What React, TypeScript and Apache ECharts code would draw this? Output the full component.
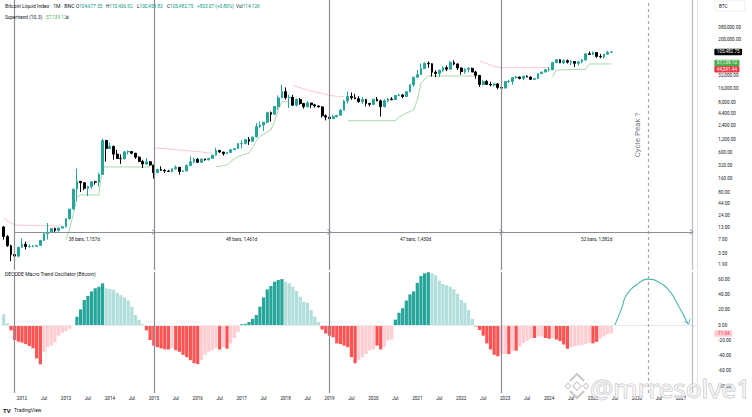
import React, { useEffect, useRef } from 'react';
import * as echarts from 'echarts';

const FONT = 'Roboto, "Noto Sans", Arial, sans-serif';

// Monthly categories Aug 2011 .. May 2027
const CATEGORIES: string[] = [];
for (let y = 2011; y <= 2027; y++) {
  for (let m = 1; m <= 12; m++) {
    if ((y === 2011 && m < 8) || (y === 2027 && m > 5)) continue;
    CATEGORIES.push(`${y}-${m < 10 ? '0' + m : m}`);
  }
}

// Bitcoin Liquid Index monthly candles, Aug 2011 .. Jun 2025
const FIRST_OPEN = 13.4;
const CLOSE = [
  8.2, 5.1, 3.25, 3.0, 4.7,
  5.5, 4.9, 4.9, 5.0, 5.2, 6.7, 9.4, 10.2, 12.4, 11.2, 12.6, 13.5,
  20.4, 33.4, 93, 139, 129, 97, 106, 135, 133, 198, 1130, 750,
  830, 560, 450, 445, 630, 640, 585, 480, 385, 338, 378, 320,
  217, 254, 244, 236, 230, 263, 284, 230, 236, 314, 377, 430,
  368, 437, 416, 448, 531, 673, 624, 573, 609, 700, 742, 964,
  970, 1190, 1080, 1350, 2300, 2480, 2875, 4700, 4340, 6450, 10000, 13800,
  10200, 10300, 6900, 9250, 7500, 6400, 7730, 7030, 6630, 6320, 4020, 3740,
  3460, 3820, 4100, 5320, 8570, 10800, 10080, 9600, 8300, 9200, 7560, 7200,
  9350, 8600, 6400, 8620, 9450, 9140, 11350, 11650, 10780, 13800, 19700, 28990,
  33100, 45200, 58800, 57700, 37300, 35000, 41500, 47100, 43800, 61300, 57000, 46300,
  38500, 43200, 45500, 37700, 31800, 19900, 23300, 20050, 19400, 20500, 17150, 16550,
  23100, 23150, 28500, 29250, 27200, 30450, 29250, 25950, 26950, 34650, 37700, 42300,
  42600, 61200, 71300, 60700, 67500, 62700, 64600, 58950, 63300, 70300, 96400, 93400,
  102400, 84300, 82500, 94200, 104677.55, 105482.75,
];
const HIGH = [
  13.9, 8.8, 5.4, 3.6, 4.8,
  7.4, 6.3, 5.5, 5.3, 5.2, 6.8, 9.8, 16.4, 12.7, 12.9, 12.9, 13.7,
  20.7, 33.5, 95, 266, 140, 130, 111, 140, 142, 215, 1240, 1160,
  1000, 870, 700, 550, 635, 680, 660, 600, 500, 420, 460, 390,
  320, 265, 300, 260, 250, 270, 315, 285, 245, 330, 500, 470,
  460, 440, 440, 465, 550, 780, 700, 630, 615, 720, 755, 975,
  1150, 1200, 1350, 1360, 2770, 3000, 2930, 4750, 4980, 6470, 11400, 19700,
  17200, 11800, 11700, 9750, 9950, 7770, 8500, 7750, 7400, 6800, 6550, 4300,
  4100, 4200, 4150, 5650, 9100, 13900, 13200, 12300, 10900, 10400, 9500, 7750,
  9600, 10500, 9200, 9450, 10100, 10400, 11450, 12450, 12100, 14100, 19900, 29300,
  41950, 58350, 61800, 64900, 59500, 41300, 42300, 50500, 52900, 67000, 69000, 59100,
  47900, 45800, 48200, 47400, 39800, 31900, 24700, 25200, 22800, 21000, 21500, 18400,
  23950, 25250, 29200, 31000, 29850, 31400, 31800, 30200, 27500, 35200, 38400, 44700,
  49000, 64000, 73800, 72800, 72000, 72000, 70000, 65100, 66500, 73600, 99600, 108300,
  109500, 102500, 95000, 95800, 112000, 110436.92,
];
const LOW = [
  7.0, 4.8, 2.3, 2.0, 2.8,
  4.6, 4.2, 4.6, 4.7, 4.8, 5.1, 6.6, 7.0, 9.8, 9.9, 10.5, 12.5,
  13.2, 19.6, 33, 50, 80, 88, 65, 95, 117, 106, 197, 380,
  740, 420, 440, 340, 420, 550, 560, 440, 370, 275, 320, 310,
  160, 210, 240, 215, 225, 220, 255, 195, 225, 235, 300, 350,
  355, 365, 400, 410, 440, 520, 600, 520, 570, 605, 690, 740,
  750, 920, 900, 1060, 1350, 2100, 1830, 2700, 2970, 4160, 5500, 10900,
  9200, 6000, 6600, 6450, 7050, 5800, 6100, 5900, 6100, 6200, 3650, 3150,
  3350, 3400, 3700, 4050, 5300, 7500, 9100, 9400, 7800, 7300, 6500, 6450,
  6900, 8450, 3850, 6150, 8150, 8900, 8950, 10950, 9850, 10400, 13200, 17600,
  28150, 32300, 45000, 47000, 30000, 28800, 29300, 37400, 39600, 43300, 53500, 42000,
  32900, 34300, 37200, 37600, 26700, 17600, 18800, 19600, 18200, 18200, 15500, 16300,
  16500, 21400, 19600, 26950, 25850, 24800, 28900, 25200, 24900, 26550, 34100, 37600,
  38500, 41900, 59300, 59600, 56500, 58400, 53500, 49000, 52600, 58900, 66800, 91400,
  89200, 78200, 76600, 74500, 93400, 100459.83,
];

// Supertrend (10, 3): uptrend (green) and downtrend (red) lines, Aug 2011 .. Jun 2025
const N = null;
const ST_UP: (number | null)[] = [
  N, N, N, N, N,
  N, N, N, N, N, N, N, N, N, N, N, N,
  6.9, 12, 26, 62, 69, 69, 69, 69, 69, 69, 290, 290,
  290, 290, 290, 290, 290, 290, 290, 290, 290, 290, 290, 290,
  N, N, N, N, N, N, N, N, N, N, N, N,
  N, N, N, N, N, 294, 300, 310, 321, 380, 440, 491,
  530, 560, 585, 800, 1100, 1370, 1550, 1750, 1930, 3000, 5380, 8240,
  8240, 8240, N, N, N, N, N, N, N, N, N, N,
  N, N, N, N, N, 3110, 3110, 3110, 3110, 3110, 3110, 3110,
  3110, 3110, 3110, 3110, 3110, 3110, 3110, 3700, 4170, 4600, 5000, 5380,
  9000, 21200, 26000, 30800, 30800, 30800, 30800, 30800, 30800, 30800, 30800, 30800,
  30800, 30800, 30800, 30800, 30800, N, N, N, N, N, N, N,
  N, N, N, N, N, N, N, N, N, N, N, N,
  N, 29700, 41900, 42100, 42300, 42500, 42700, 42900, 43100, 43300, 43400, 57139.12,
  57139.12, 57139.12, 57139.12, 57139.12, 57139.12, 57139.12,
];
const ST_DOWN: (number | null)[] = [
  21.2, 18.2, 16.4, 14.8, 14.7,
  14.6, 14.5, 14.5, 14.4, 14.4, 14.3, 14.3, 14.2, 14.2, 14.1, 14.1, 14.0,
  N, N, N, N, N, N, N, N, N, N, N, N,
  N, N, N, N, N, N, N, N, N, N, N, N,
  770, 760, 750, 740, 730, 715, 700, 690, 680, 670, 660, 650,
  640, 625, 610, 595, 590, N, N, N, N, N, N, N,
  N, N, N, N, N, N, N, N, N, N, N, N,
  N, N, 19400, 18000, 16800, 15800, 15000, 14200, 13500, 13000, 12700, 12000,
  11500, 11100, 10900, 10700, 10700, N, N, N, N, N, N, N,
  N, N, N, N, N, N, N, N, N, N, N, N,
  N, N, N, N, N, N, N, N, N, N, N, N,
  N, N, N, N, N, 66500, 62000, 58000, 54000, 51000, 48500, 47200,
  47200, 47200, 47200, 47200, 47200, 47200, 47200, 47200, 47200, 47200, 47200, 47200,
  47200, N, N, N, N, N, N, N, N, N, N, N,
  N, N, N, N, N, N,
];

// DECODE Macro Trend Oscillator, Aug 2011 .. Jun 2025
const OSC = [
  14, 2, -7, -19.6, -21.8,
  -23, -25, -27.5, -30.5, -43.6, -51.4, -35, -29, -27, -23, -14, -10,
  -8, -5, -1, 10.9, 20.5, 32.7, 38, 44, 48, 50, 54.5, 48,
  47, 46, 42, 39, 36, 32, 24, 13, 6.5, 1, -7, -19.6,
  -27, -29, -30.5, -31.8, -32, -30, -33, -35, -39, -42, -46, -50,
  -51, -46, -39, -35, -33, -30.5, -32, -29, -31, -24, -17, -9,
  1, 1.5, 4, 8, 13, 24, 36, 46.6, 51, 56.6, 58.8, 60,
  56.6, 54.5, 50, 44.4, 37, 30.5, 29, 19.6, 10.9, 4, -6, -11,
  -14, -16, -24, -25, -27, -29, -42, -50, -46, -42, -38, -33,
  -32, -27, -32, -29, -20, -19, 7, 16, 22, 32, 40, 44,
  55, 64, 67.5, 69, 67.5, 65, 58, 53.6, 52, 50, 46.6, 41,
  32.7, 29, 19.6, 8, -2, -6.5, -14, -24, -32, -39, -41, -38,
  -38, -38, -34, -33.5, -28, -23.5, -21, -18, -17, -15, -15, -17,
  -18, -17, -19, -21, -25.5, -31, -29, -28, -27, -26, -25, -23.5,
  -24, -22, -18, -15, -12, -11.04,
];
// U rising positive, u falling positive, D falling negative, d rising negative
const OSC_STATE = [
  'u', 'u', 'D', 'D', 'D',
  'D', 'D', 'D', 'D', 'D', 'D', 'd', 'd', 'd', 'd', 'd', 'd',
  'd', 'd', 'd', 'U', 'U', 'U', 'U', 'U', 'U', 'U', 'U', 'u',
  'u', 'u', 'u', 'u', 'u', 'u', 'u', 'u', 'u', 'u', 'D', 'D',
  'D', 'D', 'D', 'D', 'D', 'd', 'D', 'D', 'D', 'D', 'D', 'D',
  'D', 'd', 'd', 'd', 'd', 'd', 'D', 'd', 'D', 'd', 'd', 'd',
  'U', 'U', 'U', 'U', 'U', 'U', 'U', 'U', 'U', 'U', 'U', 'U',
  'u', 'u', 'u', 'u', 'u', 'u', 'u', 'u', 'u', 'u', 'D', 'D',
  'D', 'D', 'D', 'D', 'D', 'D', 'D', 'D', 'd', 'd', 'd', 'd',
  'd', 'D', 'D', 'd', 'd', 'd', 'U', 'U', 'U', 'U', 'U', 'U',
  'U', 'U', 'U', 'U', 'u', 'u', 'u', 'u', 'u', 'u', 'u', 'u',
  'u', 'u', 'u', 'u', 'D', 'D', 'D', 'D', 'D', 'D', 'D', 'd',
  'd', 'D', 'd', 'D', 'd', 'd', 'd', 'd', 'D', 'd', 'd', 'D',
  'D', 'd', 'D', 'D', 'D', 'D', 'd', 'd', 'd', 'd', 'd', 'd',
  'D', 'D', 'd', 'd', 'd', 'd',
];

// Projected cycle arc (annotation)
const ARC: [string, number][] = [
  ['2025-07', 0], ['2025-09', 24], ['2025-10', 38], ['2026-01', 53], ['2026-04', 60],
  ['2026-07', 56], ['2026-10', 44], ['2026-12', 28], ['2027-03', 1],
];

// Measurement annotations
const MEASURE_LEVEL = 10.3;
const MEASURES = [
  { from: '2011-11', to: '2015-01', text: '38 bars, 1,157d' },
  { from: '2015-01', to: '2019-01', text: '48 bars, 1,461d' },
  { from: '2019-01', to: '2022-12', text: '47 bars, 1,430d' },
  { from: '2022-12', to: '2027-04', text: '52 bars, 1,582d' },
];
const CYCLE_PEAK = '2026-04';

const PRICE_TICKS = [380000, 200000, 32000, 16000, 8000, 4400, 2400, 1200, 600, 320, 160, 80, 44, 24, 13, 7, 3.5, 1.9];
const OSC_TICKS = [60, 40, 20, 0, -20, -40, -60, -80];

const LAST_CLOSE = 105482.75;
const ST_LAST = 57139.12;
const RED_LEVEL = 44391.44;
const OSC_LAST = -11.04;

// Header texts
const HEADER_TITLE = 'Bitcoin Liquid Index · 1M · BNC';
const HEADER_FIELDS: [string, string][] = [
  ['O', '104,677.55'],
  ['H', '110,436.92'],
  ['L', '100,459.83'],
  ['C', '105,482.75'],
  ['', '+833.07 (+0.80%)'],
  ['Vol', '114.12K'],
];
const ST_TITLE = 'Supertrend (10, 3)';
const ST_VALUE = '57,139.12';

const UP = '#26a69a';
const DOWN = '#000000';
const OSC_COLORS: Record<string, string> = { U: '#26a69a', u: '#b2dfdb', D: '#ff5252', d: '#ffcdd2' };
const GRID_LEFT = 1.9;
const GRID_RIGHT = 54.7;
const SMALL = 4.6;
const LEGEND = 4.7;

const fmt = (v: number) =>
  Number(v).toLocaleString('en-US', { minimumFractionDigits: 2, maximumFractionDigits: 2 });

const CHEVRON = 'path://M0,10 L5,0 L10,10 L8.4,10 L5,3.2 L1.6,10 Z';

function priceTag(value: number, bg: string, color: string, offsetY = 0) {
  return {
    yAxis: value,
    lineStyle: { color: 'rgba(0,0,0,0)', width: 0 },
    label: {
      show: true,
      opacity: 1,
      position: 'end',
      distance: 17,
      offset: [0, offsetY],
      formatter: fmt(value),
      backgroundColor: bg,
      color,
      fontSize: SMALL,
      fontFamily: FONT,
      padding: [1, 2.5, 0.5, 2.5],
      borderRadius: 1,
    },
  };
}

function txt(x: number, y: number, text: string, fill: string, size = LEGEND, extra: any = {}) {
  return {
    type: 'text',
    x,
    y,
    z: 10,
    style: { text, verticalAlign: 'middle', fontSize: size, fontFamily: FONT, fill, ...extra },
  };
}

export default function App() {
  const ref = useRef<HTMLDivElement>(null);

  useEffect(() => {
    document.body.style.margin = '0';
    const chart = echarts.init(ref.current!, null, { renderer: 'svg' });

    const candles = CLOSE.map((c, i) => [i === 0 ? FIRST_OPEN : CLOSE[i - 1], c, LOW[i], HIGH[i]]);
    const vDates = [MEASURES[0].from, ...MEASURES.map((m) => m.to)];
    const vLines = (withLabel: boolean) => [
      ...vDates.map((d, i) => ({
        xAxis: d,
        lineStyle: { color: i === vDates.length - 1 ? '#b8bbc3' : '#8a8d96', width: 1.2, type: 'solid' },
        label: { show: false },
      })),
      {
        xAxis: CYCLE_PEAK,
        lineStyle: { color: '#a3a6af', width: 1.2, type: [3, 3] },
        label: withLabel
          ? {
              show: true,
              position: 'middle',
              formatter: 'Cycle Peak ?',
              color: '#787b86',
              fontSize: 8,
              fontFamily: FONT,
              backgroundColor: '#ffffff',
              padding: [1, 2],
            }
          : { show: false },
      },
    ];
    const segs = MEASURES.map((m) => [
      {
        coord: [m.from, MEASURE_LEVEL],
        symbol: 'none',
        lineStyle: { color: '#8a8d96', width: 1, type: 'solid' },
        label: {
          show: true,
          position: 'insideMiddleBottom',
          formatter: m.text,
          color: '#131722',
          fontSize: SMALL,
          fontFamily: FONT,
          distance: 5,
        },
      },
      { coord: [m.to, MEASURE_LEVEL], symbol: CHEVRON, symbolSize: [6, 4] },
    ]);

    // header texts at TradingView-like spacing
    const headerX = [76, 106, 137, 167, 197, 236];
    const header: any[] = [txt(5, 6, HEADER_TITLE, '#131722', 5.1)];
    HEADER_FIELDS.forEach(([k, v], i) => {
      header.push({
        type: 'text', x: headerX[i], y: 6, z: 10,
        style: {
          text: k ? `{k|${k}}{v|${v}}` : `{v|${v}}`,
          verticalAlign: 'middle',
          fontSize: LEGEND,
          fontFamily: FONT,
          rich: {
            k: { fill: '#131722', fontSize: LEGEND, fontFamily: FONT },
            v: { fill: '#089981', fontSize: LEGEND, fontFamily: FONT },
          },
        },
      });
    });

    const option: any = {
      animation: false,
      backgroundColor: '#ffffff',
      textStyle: { fontFamily: FONT },
      grid: [
        { left: GRID_LEFT, right: GRID_RIGHT, top: 0, height: 270 },
        { left: GRID_LEFT, right: GRID_RIGHT, top: 272, height: 121 },
      ],
      xAxis: [
        {
          type: 'category',
          gridIndex: 0,
          data: CATEGORIES,
          boundaryGap: true,
          axisLine: { show: false },
          axisTick: { show: false },
          axisLabel: { show: false },
          splitLine: { show: false },
        },
        {
          type: 'category',
          gridIndex: 1,
          data: CATEGORIES,
          boundaryGap: true,
          axisLine: { show: true, lineStyle: { color: '#e0e3eb', width: 1 } },
          axisTick: { show: false },
          axisLabel: {
            interval: (_i: number, v: string) => v.endsWith('-01') || v.endsWith('-07'),
            formatter: (v: string) => (v.endsWith('-01') ? v.slice(0, 4) : 'Jul'),
            fontSize: SMALL,
            color: '#131722',
            margin: 3,
            fontFamily: FONT,
          },
          splitLine: { show: false },
        },
      ],
      yAxis: [
        {
          type: 'log',
          gridIndex: 0,
          position: 'right',
          min: 1.47,
          max: 1518000,
          axisLine: { show: true, lineStyle: { color: '#e0e3eb', width: 1 } },
          axisTick: { show: false },
          splitLine: { show: false },
          axisLabel: {
            customValues: PRICE_TICKS,
            formatter: (v: number) => fmt(v),
            fontSize: SMALL,
            color: '#131722',
            margin: 21,
            align: 'left',
            fontFamily: FONT,
          },
        },
        {
          type: 'value',
          gridIndex: 1,
          position: 'right',
          min: -88.9,
          max: 69.3,
          axisLine: { show: true, lineStyle: { color: '#e0e3eb', width: 1 } },
          axisTick: { show: false },
          splitLine: { show: false },
          axisLabel: {
            customValues: OSC_TICKS,
            formatter: (v: number) => fmt(v),
            fontSize: SMALL,
            color: '#131722',
            margin: 21,
            align: 'left',
            fontFamily: FONT,
          },
        },
      ],
      series: [
        {
          type: 'candlestick',
          xAxisIndex: 0,
          yAxisIndex: 0,
          data: candles,
          barWidth: '62%',
          itemStyle: { color: UP, color0: DOWN, borderColor: UP, borderColor0: DOWN, borderWidth: 1 },
          markLine: {
            silent: true,
            symbol: ['none', 'none'],
            animation: false,
            data: [
              ...vLines(true),
              ...segs,
              priceTag(LAST_CLOSE, '#000000', '#ffffff'),
              priceTag(RED_LEVEL, '#f23645', '#ffffff', 0.5),
            ],
          },
          z: 3,
        },
        {
          type: 'line',
          name: 'Supertrend up',
          xAxisIndex: 0,
          yAxisIndex: 0,
          data: ST_UP.map((v) => (v == null ? '-' : v)),
          symbol: 'none',
          connectNulls: false,
          lineStyle: { color: '#6cc070', width: 0.8, opacity: 0.75 },
          z: 2,
          markLine: {
            silent: true,
            symbol: ['none', 'none'],
            data: [priceTag(ST_LAST, '#4caf50', '#ffffff', -1)],
          },
        },
        {
          type: 'line',
          name: 'Supertrend down',
          xAxisIndex: 0,
          yAxisIndex: 0,
          data: ST_DOWN.map((v) => (v == null ? '-' : v)),
          symbol: 'none',
          connectNulls: false,
          lineStyle: { color: '#f7a6b4', width: 0.8, opacity: 0.8 },
          z: 2,
        },
        {
          type: 'bar',
          xAxisIndex: 1,
          yAxisIndex: 1,
          barCategoryGap: '12%',
          data: OSC.map((v, i) => ({ value: v, itemStyle: { color: OSC_COLORS[OSC_STATE[i]] } })),
          markLine: {
            silent: true,
            symbol: ['none', 'none'],
            data: [
              { yAxis: 0, lineStyle: { color: '#e6e8ee', width: 1, type: 'solid' }, label: { show: false } },
              ...vLines(false),
              {
                yAxis: OSC_LAST,
                lineStyle: { color: 'rgba(0,0,0,0)', width: 0 },
                label: {
                  show: true,
                  opacity: 1,
                  position: 'end',
                  distance: 17,
                  formatter: fmt(OSC_LAST),
                  backgroundColor: '#ffcdd2',
                  color: '#f23645',
                  fontSize: SMALL,
                  fontFamily: FONT,
                  padding: [1, 2.5, 0.5, 2.5],
                },
              },
            ],
          },
        },
        {
          type: 'line',
          xAxisIndex: 1,
          yAxisIndex: 1,
          smooth: 0.5,
          showSymbol: true,
          showAllSymbol: true,
          symbol: 'circle',
          symbolSize: 0,
          lineStyle: { color: '#4db6ac', width: 1.1 },
          itemStyle: { color: '#4db6ac' },
          data: ARC.map((p, i) =>
            i === ARC.length - 1
              ? {
                  value: p,
                  symbol: 'path://M0,0 L5,6 L10,0 L8.6,0 L5,4.2 L1.4,0 Z',
                  symbolSize: [7, 5],
                  symbolRotate: 24,
                  symbolOffset: [0, -2],
                  itemStyle: { color: '#4db6ac' },
                }
              : { value: p, symbol: 'none' },
          ),
          z: 4,
        },
      ],
      graphic: [
        ...header,
        txt(5, 17, ST_TITLE, '#131722'),
        txt(46, 17, ST_VALUE, '#4caf50'),
        txt(66, 17, 'ø', '#131722'),
        txt(5, 274, 'DECODE Macro Trend Oscillator (Bitcoin)', '#131722', 5),
        {
          type: 'rect',
          shape: { x: 715, y: 1, width: 30, height: 10, r: 1.5 },
          z: 10,
          style: { fill: '#ffffff', stroke: '#e0e3eb', lineWidth: 0.6 },
        },
        txt(719, 6, 'BTC', '#131722', SMALL),
        {
          type: 'text',
          x: 3,
          y: 410,
          z: 10,
          style: {
            text: '{b|TV} {t|TradingView}',
            verticalAlign: 'middle',
            rich: {
              b: { fill: '#131722', fontSize: 6, fontWeight: 'bold', fontFamily: FONT },
              t: { fill: '#131722', fontSize: 5, fontFamily: FONT },
            },
          },
        },
        // watermark
        {
          type: 'group',
          x: 577,
          y: 386,
          z: 20,
          children: [
            { type: 'rect', x: 0, y: 0, rotation: Math.PI / 4, shape: { x: -3, y: -3, width: 6, height: 6 }, style: { fill: 'rgba(255,255,255,0.6)', stroke: '#c9c9c9', lineWidth: 1 } },
            { type: 'rect', x: -9, y: 0, rotation: Math.PI / 4, shape: { x: -2, y: -2, width: 4, height: 4 }, style: { fill: 'rgba(255,255,255,0.6)', stroke: '#c9c9c9', lineWidth: 1 } },
            { type: 'rect', x: 9, y: 0, rotation: Math.PI / 4, shape: { x: -2, y: -2, width: 4, height: 4 }, style: { fill: 'rgba(255,255,255,0.6)', stroke: '#c9c9c9', lineWidth: 1 } },
            { type: 'polyline', shape: { points: [[-7, -5], [0, -12], [7, -5]] }, style: { stroke: '#c9c9c9', lineWidth: 2, fill: 'none' } },
            { type: 'polyline', shape: { points: [[-7, 5], [0, 12], [7, 5]] }, style: { stroke: '#c9c9c9', lineWidth: 2, fill: 'none' } },
          ],
        },
        {
          type: 'text',
          x: 590,
          y: 388,
          z: 20,
          style: {
            text: '@mrresolve1',
            verticalAlign: 'middle',
            fontSize: 26,
            fontFamily: '"Noto Sans", sans-serif',
            fill: 'rgba(255,255,255,0.55)',
            stroke: '#c4c4c4',
            lineWidth: 1,
          },
        },
      ],
    };

    chart.setOption(option);
    return () => chart.dispose();
  }, []);

  return (
    <div
      ref={ref}
      style={{ position: 'absolute', left: 0, top: 0, width: 752, height: 417, background: '#ffffff' }}
    />
  );
}
